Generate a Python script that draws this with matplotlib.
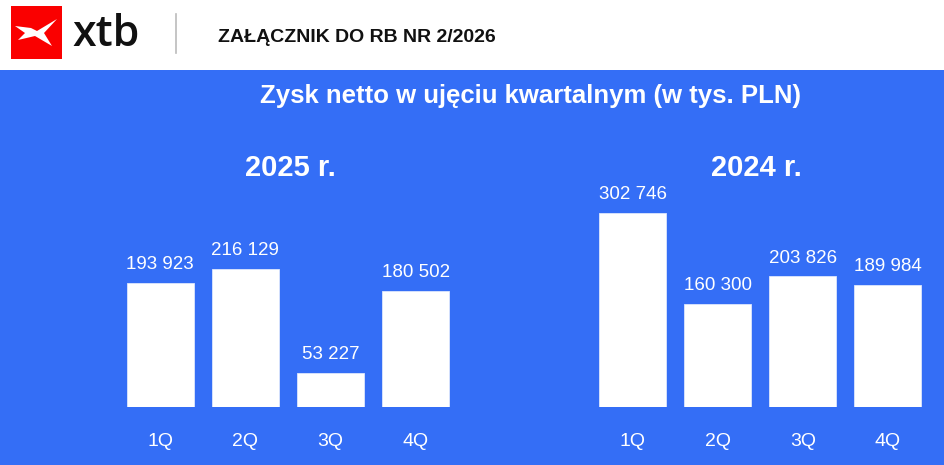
import matplotlib.pyplot as plt
from matplotlib.patches import Rectangle, Polygon
import numpy as np

plt.rcParams['font.family'] = ['Liberation Sans', 'DejaVu Sans']

quarters = ['1Q', '2Q', '3Q', '4Q']
profit_2025 = [193923, 216129, 53227, 180502]
profit_2024 = [302746, 160300, 203826, 189984]

header_text = 'ZAŁĄCZNIK DO RB NR 2/2026'
title = 'Zysk netto w ujęciu kwartalnym (w tys. PLN)'

BLUE = '#346ef6'
W, H = 945, 465


def fx(px):
    return px / W


def fy(py):
    return 1 - py / H


def fmt(v):
    return f'{v:,}'.replace(',', ' ')


fig = plt.figure(figsize=(9.45, 4.65), dpi=100)
fig.patch.set_facecolor(BLUE)

# white header strip
fig.patches.append(Rectangle((0, fy(70.5)), 1, 70.5 / H, transform=fig.transFigure,
                             facecolor='white', edgecolor='none', zorder=0))
# red logo square with the white cross
fig.patches.append(Rectangle((fx(11), fy(59)), 51 / W, 53 / H, transform=fig.transFigure,
                             facecolor='#fa0000', edgecolor='none', zorder=1))
cross = [(15, 26), (31, 28), (37, 31), (57, 19), (44, 33), (52, 46), (35, 36),
         (18, 40), (25, 33)]
fig.patches.append(Polygon([(fx(a), fy(b)) for a, b in cross], closed=True,
                           transform=fig.transFigure, facecolor='white',
                           edgecolor='none', zorder=2))
fig.text(fx(72), fy(46), 'xtb', fontsize=31, fontweight='semibold', color='#111111',
         ha='left', va='baseline', family=['Open Sans', 'DejaVu Sans'])
fig.add_artist(plt.Line2D([fx(176), fx(176)], [fy(14), fy(53)], color='#bbbbbb', lw=1.2))
fig.text(fx(218), fy(42.5), header_text, fontsize=14, fontweight='bold',
         color='#111111', ha='left', va='baseline')

fig.text(fx(531), fy(102.7), title, fontsize=18.5, fontweight='bold',
         color='white', ha='center', va='baseline')


def draw_panel(left, right, data, year, year_x):
    ax = fig.add_axes([fx(left), fy(407), (right - left) / W, 205 / H])
    ax.set_facecolor('none')
    x = np.arange(len(data))
    bars = ax.bar(x, data, width=0.786, color='white', edgecolor='#dce6fd', linewidth=0.6)
    ax.set_xlim(-0.5, len(data) - 0.5)
    ax.set_ylim(0, 320000)
    for b, v in zip(bars, data):
        ax.annotate(fmt(v), (b.get_x() + b.get_width() / 2, v), xytext=(0, 10),
                    textcoords='offset points', ha='center', va='baseline',
                    fontsize=13.5, color='white')
    ax.set_xticks(x, quarters)
    ax.tick_params(axis='x', length=0, pad=18.5, labelsize=14, labelcolor='white')
    ax.set_yticks([])
    for s in ax.spines.values():
        s.set_visible(False)
    fig.text(fx(year_x), fy(176), year, fontsize=21, fontweight='bold',
             color='white', ha='center', va='baseline')


draw_panel(117.6, 458.3, profit_2025, '2025 r.', 290)
draw_panel(590.2, 930.3, profit_2024, '2024 r.', 756.5)

fig.savefig('out.png', dpi=100, facecolor=fig.get_facecolor())
